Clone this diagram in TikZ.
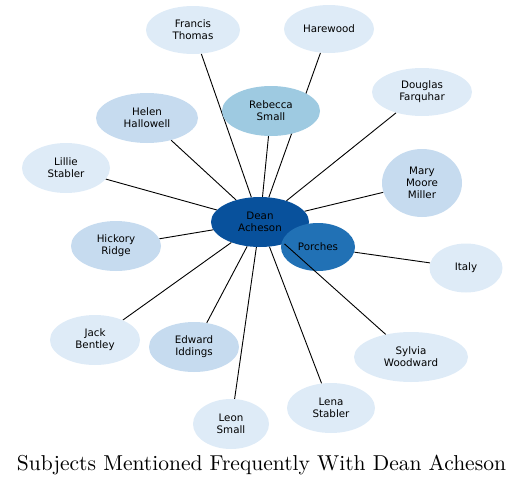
\documentclass[tikz,border=0pt]{standalone}
\usepackage{fontspec}
\newfontfamily\labelfont{DejaVu Sans}
\usetikzlibrary{shapes.geometric,backgrounds}
\definecolor{cA}{HTML}{DEEBF7}
\definecolor{cB}{HTML}{C6DBEF}
\definecolor{cC}{HTML}{9ECAE1}
\definecolor{cD}{HTML}{2171B5}
\definecolor{cE}{HTML}{08519C}
\tikzset{
  person/.style={ellipse, inner sep=0pt, align=center, font=\labelfont\fontsize{10.3}{11.7}\selectfont, text=black},
  link/.style={draw=black, line width=0.9pt},
}
\newcommand{\enode}[7]{\node[person, fill=#4, minimum width=#5pt, minimum height=#6pt] (#1) at (#2,#3) {#7};}
\begin{document}
\begin{tikzpicture}[x=1pt,y=-1pt]
\useasboundingbox (0,0) rectangle (525,485);
\enode{francis}{193}{30}{cA}{94}{48}{Francis\\Thomas}
\enode{harewood}{329}{29}{cA}{90}{48}{Harewood}
\enode{douglas}{422}{92}{cA}{100}{48}{Douglas\\Farquhar}
\enode{helen}{147}{118}{cB}{102}{50}{Helen\\Hallowell}
\enode{lillie}{66}{168}{cA}{88}{50}{Lillie\\Stabler}
\enode{mary}{422}{183}{cB}{80}{68}{Mary\\Moore\\Miller}
\enode{dean}{260}{222}{cE}{98}{50}{Dean\\Acheson}
\enode{porches}{318}{247}{cD}{74}{48}{Porches}
\enode{rebecca}{271}{111}{cC}{98}{50}{Rebecca\\Small}
\enode{hickory}{116}{246}{cB}{90}{50}{Hickory\\Ridge}
\enode{italy}{466}{268}{cA}{73}{49}{Italy}
\enode{jack}{95}{340}{cA}{90}{50}{Jack\\Bentley}
\enode{edward}{194}{347}{cB}{90}{50}{Edward\\Iddings}
\enode{sylvia}{411}{357}{cA}{114}{50}{Sylvia\\Woodward}
\enode{lena}{331}{408}{cA}{88}{50}{Lena\\Stabler}
\enode{leon}{231}{424}{cA}{76}{50}{Leon\\Small}
\begin{scope}[on background layer]
  \foreach \t in {francis,harewood,douglas,helen,lillie,mary,rebecca,hickory,jack,edward,lena,leon}
    \draw[link] (dean) -- (\t);
  \draw[link] (porches) -- (italy);
\end{scope}
\draw[link] (dean) -- (sylvia);
\node[anchor=base] (title) at (261.5,470) {\resizebox{489pt}{!}{Subjects Mentioned Frequently With Dean Acheson}};
\end{tikzpicture}
\end{document}
